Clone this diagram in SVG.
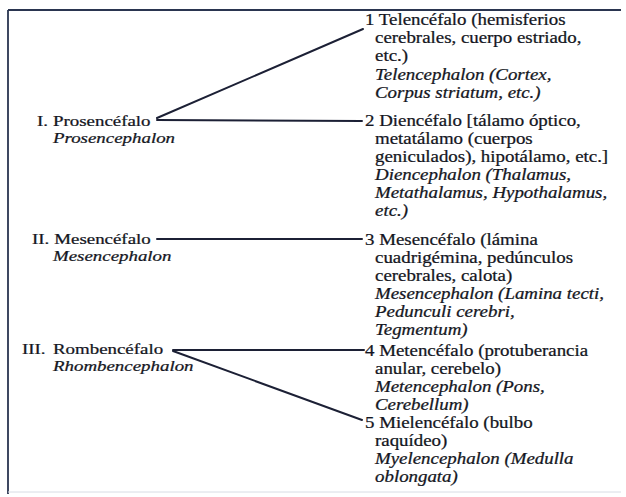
<svg xmlns="http://www.w3.org/2000/svg" width="626" height="497" viewBox="0 0 626 497">
<style>
text{font-family:"Liberation Serif","Times New Roman",serif;font-size:16px;fill:#141622;stroke:#141622;stroke-width:0.25}
.l text{font-size:15px}
.i{font-style:italic}
.c line{stroke:#1c2035;stroke-width:2;stroke-linecap:round}
.f{stroke:#2a3550;fill:none}
</style>
<rect width="626" height="497" fill="#ffffff"/>
<g id="frame">
<line class="f" x1="8" y1="10" x2="621" y2="10" stroke-width="2.2"/>
<line class="f" x1="8" y1="10" x2="8" y2="494" stroke-width="1.8"/>
<line x1="8" y1="492" x2="621" y2="492" stroke="#d8dce4" stroke-width="1"/>
</g>
<g class="l" transform="matrix(1.26 0 0 1 -13.78 0)">
<g id="prosencephalon">
<text x="40.3" y="126">I.</text>
<text x="53" y="126">Prosencéfalo</text>
<text class="i" x="53" y="143">Prosencephalon</text>
</g>
<g id="mesencephalon">
<text x="36.3" y="244">II.</text>
<text x="54" y="244">Mesencéfalo</text>
<text class="i" x="53" y="261">Mesencephalon</text>
</g>
<g id="rhombencephalon">
<text x="28.4" y="354">III.</text>
<text x="53" y="354">Rombencéfalo</text>
<text class="i" x="53" y="371">Rhombencephalon</text>
</g>
</g>
<g transform="matrix(1.18 0 0 1 -65.7 0)">
<g id="telencephalon">
<text x="365" y="25">1 Telencéfalo (hemisferios</text>
<text x="373.5" y="43">cerebrales, cuerpo estriado,</text>
<text x="373.5" y="61">etc.)</text>
<text class="i" x="373.5" y="80">Telencephalon (Cortex,</text>
<text class="i" x="373.5" y="98">Corpus striatum, etc.)</text>
</g>
<g id="diencephalon">
<text x="365" y="126">2 Diencéfalo [tálamo óptico,</text>
<text x="373.5" y="144">metatálamo (cuerpos</text>
<text x="373.5" y="162">geniculados), hipotálamo, etc.]</text>
<text class="i" x="373.5" y="180">Diencephalon (Thalamus,</text>
<text class="i" x="373.5" y="198">Metathalamus, Hypothalamus,</text>
<text class="i" x="373.5" y="216">etc.)</text>
</g>
<g id="mesencephalon-detail">
<text x="365" y="245">3 Mesencéfalo (lámina</text>
<text x="373.5" y="263">cuadrigémina, pedúnculos</text>
<text x="373.5" y="281">cerebrales, calota)</text>
<text class="i" x="373.5" y="299">Mesencephalon (Lamina tecti,</text>
<text class="i" x="373.5" y="317">Pedunculi cerebri,</text>
<text class="i" x="373.5" y="335">Tegmentum)</text>
</g>
<g id="metencephalon">
<text x="365" y="356">4 Metencéfalo (protuberancia</text>
<text x="373.5" y="374">anular, cerebelo)</text>
<text class="i" x="373.5" y="392">Metencephalon (Pons,</text>
<text class="i" x="373.5" y="410">Cerebellum)</text>
</g>
<g id="myelencephalon">
<text x="365" y="428">5 Mielencéfalo (bulbo</text>
<text x="373.5" y="446">raquídeo)</text>
<text class="i" x="373.5" y="464">Myelencephalon (Medulla</text>
<text class="i" x="373.5" y="482">oblongata)</text>
</g>
</g>
<g id="connectors" class="c">
<line x1="157" y1="118" x2="363" y2="29"/>
<line x1="157" y1="120" x2="362" y2="121"/>
<line x1="157" y1="239" x2="362" y2="239"/>
<line x1="173" y1="350" x2="364" y2="350"/>
<line x1="173" y1="351" x2="362" y2="420"/>
</g>
</svg>
